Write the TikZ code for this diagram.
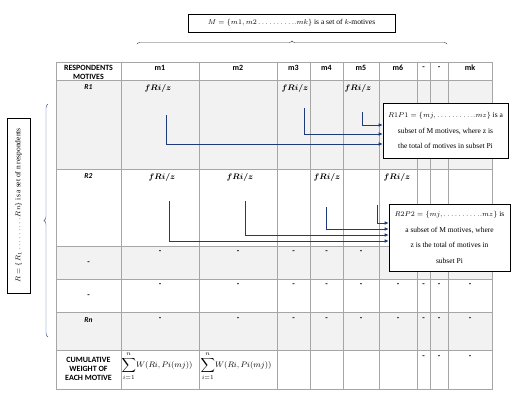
\documentclass[tikz,border=0pt]{standalone}
\usepackage{fontspec}
\setmainfont{Liberation Serif}
\newfontfamily\hdfont{Carlito}
\usepackage{bm}
\usetikzlibrary{decorations.pathreplacing,arrows.meta}
\definecolor{cellgray}{HTML}{F2F2F2}
\definecolor{gridgray}{HTML}{A6A6A6}
\definecolor{arrowblue}{HTML}{1F3A7A}
\definecolor{braceblue}{HTML}{34508C}

\begin{document}
\begin{tikzpicture}[x=1pt,y=-1pt,
        hd/.style={font=\hdfont\bfseries\fontsize{8}{9}\selectfont, align=center, inner sep=0pt},
        rowname/.style={font=\hdfont\bfseries\itshape\fontsize{7.5}{8.5}\selectfont, inner sep=0pt},
        cellmark/.style={font=\hdfont\bfseries\fontsize{8}{9}\selectfont, inner sep=0pt},
        freq/.style={font=\fontsize{8}{9}\selectfont, inner sep=0pt},
        infobox/.style={draw, fill=white, line width=0.6pt, align=center, inner sep=0pt, font=\fontsize{7.5}{15.5}\selectfont},
        link/.style={arrowblue, line width=0.6pt, -{Latex[length=4pt,width=3.5pt]}}]

        \useasboundingbox (0,0) rectangle (520,400);

        % shaded rows and grid
        \foreach \ya/\yb in {80/169,246/279,312/350}
            \fill[cellgray] (56,\ya) rectangle (492,\yb);
        \foreach \y in {80,169,246,279,312,350}
            \draw[gridgray, line width=0.6pt] (56,\y) -- (492,\y);
        \foreach \x in {121,199,277,310,343,379,417,430,448}
            \draw[gridgray, line width=0.6pt] (\x,62) -- (\x,389);
        \draw[gridgray, line width=0.8pt] (56,62) rectangle (492,389);

        % header row
        \node[hd] (hresp) at (88.5,72) {RESPONDENTS\\MOTIVES};
        \foreach \x/\t [count=\i] in {160/m1,238/m2,293.5/m3,326.5/m4,361/m5,398/m6,423.5/-,439/-,470/mk}
            \node[hd] (h\i) at (\x,68) {\t};

        % first column
        \node[rowname] (r1) at (88.5,87) {R1};
        \node[rowname] (r2) at (88.5,176) {R2};
        \node[cellmark] (r3) at (88.5,263) {-};
        \node[cellmark] (r4) at (88.5,296) {-};
        \node[rowname] (rn) at (88.5,320) {Rn};
        \node[hd] (cum) at (88.5,369) {CUMULATIVE\\WEIGHT OF\\EACH MOTIVE};

        % frequencies
        \node[freq] (f11) at (158,88) {$\bm{fRi/z}$};
        \node[freq] (f13) at (295,88) {$\bm{fRi/z}$};
        \node[freq] (f15) at (358,88) {$\bm{fRi/z}$};
        \node[freq] (f21) at (162,177) {$\bm{fRi/z}$};
        \node[freq] (f22) at (240,177) {$\bm{fRi/z}$};
        \node[freq] (f24) at (327,177) {$\bm{fRi/z}$};
        \node[freq] (f26) at (397,177) {$\bm{fRi/z}$};

        % empty cells
        \foreach \x [count=\i] in {160,238,293.5,326.5,361}
            \node[cellmark] (da\i) at (\x,252) {-};
        \foreach \x [count=\i] in {160,238,293.5,326.5,361,398,423.5,439,470}
            \node[cellmark] (db\i) at (\x,285) {-};
        \foreach \x [count=\i] in {160,238,293.5,326.5,361,398,423.5,439,470}
            \node[cellmark] (dn\i) at (\x,319) {-};
        \foreach \x [count=\i] in {423.5,439,470}
            \node[cellmark] (dc\i) at (\x,357) {-};

        % cumulative weights
        \node[freq] (w1) at (157,366) {$\displaystyle\sum_{i=1}^{n}\! W(Ri,Pi(mj))$};
        \node[freq] (w2) at (236,366) {$\displaystyle\sum_{i=1}^{n}\! W(Ri,Pi(mj))$};

        % subsets
        \node[infobox, minimum width=125pt, minimum height=55pt] (p1) at (445.5,130.5)
            {$R1P1 = \{mj,\dots\dots\dots..mz\}$ is a\\subset of M motives, where z is\\the total of motives in subset Pi};
        \node[infobox, minimum width=121pt, minimum height=67pt] (p2) at (449.5,237.5)
            {$R2P2 = \{mj,\dots\dots\dots..mz\}$ is\\a subset of M motives, where\\z is the total of motives in\\subset Pi};

        \coordinate (a11) at (166,115);
        \coordinate (a13) at (304,108);
        \coordinate (a15) at (362,112);
        \draw[link] (a11) |- (p1.west |- 0,144);
        \draw[link] (a13) |- (p1.west |- 0,134);
        \draw[link] (a15) |- (p1.west |- 0,125);

        \coordinate (a21) at (169,201);
        \coordinate (a22) at (245,201);
        \coordinate (a24) at (326,207);
        \coordinate (a26) at (377,205);
        \draw[link] (a21) |- (p2.west |- 0,241);
        \draw[link] (a22) |- (p2.west |- 0,235);
        \draw[link] (a24) |- (p2.west |- 0,229);
        \draw[link] (a26) |- (p2.west |- 0,223);

        % sets
        \node[infobox, font=\fontsize{7.5}{9}\selectfont, minimum width=207pt, minimum height=18pt] (mset) at (291.5,23)
            {$M = \{m1, m2 \dots\dots\dots..mk\}$ is a set of $k$-motives};
        \draw[decorate, decoration={brace, amplitude=3pt}, black!75] (137,44) -- (447,44);

        \node[infobox, font=\fontsize{7.5}{9}\selectfont, rotate=90, minimum width=175pt, minimum height=23pt] (rset) at (18.5,205.5)
            {$R = \{R_1 \dots\dots\dots Rn\}$ is a set of n respondents};
        \draw[decorate, decoration={brace, amplitude=4pt}, braceblue] (48,337) -- (48,104);
    \end{tikzpicture}
\end{document}
